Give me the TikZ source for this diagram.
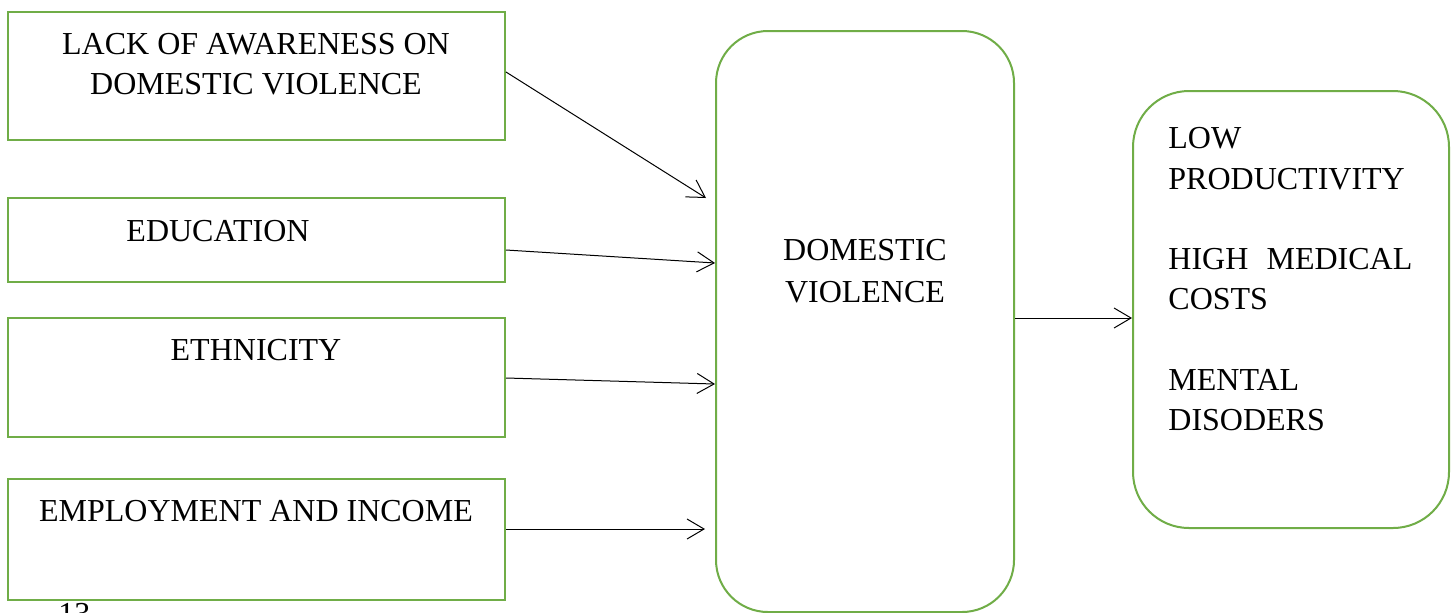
\documentclass[tikz,border=0pt]{standalone}
\usepackage{fontspec}
\setmainfont{Liberation Serif}
\usetikzlibrary{arrows.meta}
\definecolor{boxgreen}{HTML}{70AD47}
\tikzset{
  box/.style={draw=boxgreen, line width=1pt, rectangle, inner sep=0pt},
  rbox/.style={box, rounded corners=26pt},
  lbl/.style={anchor=base, inner sep=0pt, font=\fontsize{16}{20}\selectfont},
  arr/.style={draw=black, line width=0.5pt, -{Straight Barb[length=8.5pt,width=10pt,line width=0.5pt]}}
}
\begin{document}
\begin{tikzpicture}[x=0.5pt,y=-0.5pt]
\useasboundingbox (0,0) rectangle (1455,612);
\clip (0,0) rectangle (1455,612);
\fill[white] (0,0) rectangle (1455,612);
% left boxes
\node[box, minimum width=248.5pt, minimum height=64pt] (b1) at (256.5,76) {};
\node[box, minimum width=248.5pt, minimum height=42pt] (b2) at (256.5,240) {};
\node[box, minimum width=248.5pt, minimum height=59.5pt] (b3) at (256.5,377.5) {};
\node[box, minimum width=248.5pt, minimum height=60.5pt] (b4) at (256.5,539.5) {};
% middle and right boxes
\node[rbox, minimum width=149pt, minimum height=290.5pt] (dv) at (865,321.5) {};
\node[rbox, rounded corners=28pt, minimum width=158pt, minimum height=218.5pt] (out) at (1291,309.5) {};
% texts
\node[lbl] (t1a) at (256,54) {LACK OF AWARENESS ON};
\node[lbl] (t1b) at (256,94) {DOMESTIC VIOLENCE};
\node[lbl] (t2) at (218,241) {EDUCATION};
\node[lbl] (t3) at (256,360) {ETHNICITY};
\node[lbl] (t4) at (256,521) {EMPLOYMENT AND INCOME};
\node[lbl] (t5a) at (865,260) {DOMESTIC};
\node[lbl] (t5b) at (865,302) {VIOLENCE};
\node[lbl, anchor=base west] (r1) at (1168,148) {LOW};
\node[lbl, anchor=base west] (r2) at (1168,189) {PRODUCTIVITY};
\node[lbl, anchor=base west] (r3) at (1168,269) {\hbox to 122pt{HIGH\hfill MEDICAL}};
\node[lbl, anchor=base west] (r4) at (1168,309) {COSTS};
\node[lbl, anchor=base west] (r5) at (1168,390) {MENTAL};
\node[lbl, anchor=base west] (r6) at (1168,430) {DISODERS};
\node[lbl, anchor=base west] (pg) at (58,624) {13};
% connector ends
\coordinate (s1) at (b1.east |- 0,72);
\coordinate (e1) at (706,198);
\coordinate (s2) at (b2.east |- 0,250);
\coordinate (e2) at (dv.west |- 0,263);
\coordinate (s3) at (b3.east |- 0,378);
\coordinate (e3) at (dv.west |- 0,384);
\coordinate (s4) at (b4.east |- 0,529);
\coordinate (e4) at (705,529);
\coordinate (s5) at (dv.east |- 0,318);
\coordinate (e5) at (out.west |- 0,318);
\draw[arr] (s1) -- (e1);
\draw[arr] (s2) -- (e2);
\draw[arr] (s3) -- (e3);
\draw[arr] (s4) -- (e4);
\draw[arr] (s5) -- (e5);
\end{tikzpicture}
\end{document}
